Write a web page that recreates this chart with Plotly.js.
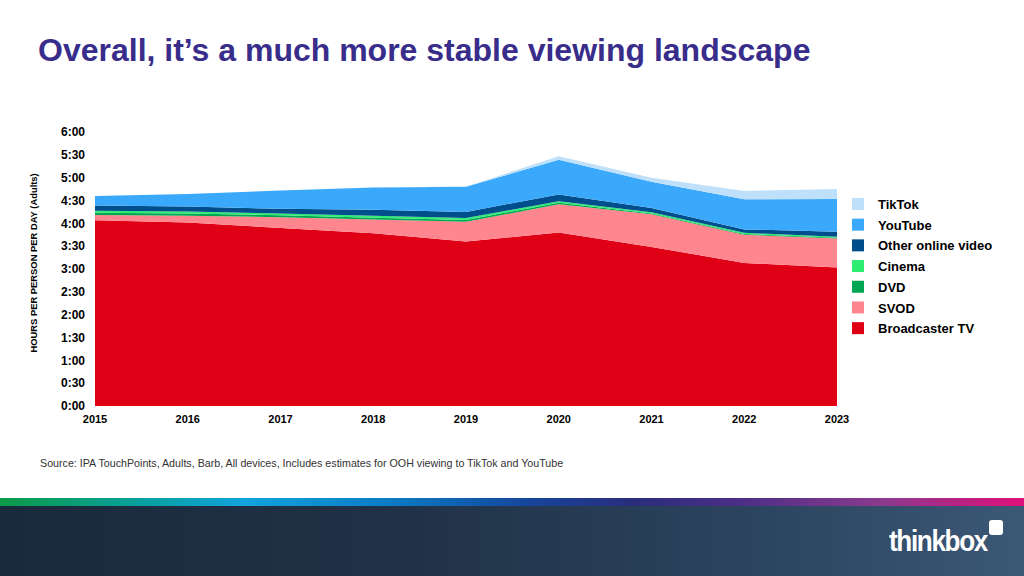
<!DOCTYPE html>
<html>
<head>
<meta charset="utf-8">
<script src="https://cdn.plot.ly/plotly-3.0.1.min.js"></script>
<style>
  html, body { margin: 0; padding: 0; background: #fff; }
  #wrap { position: relative; width: 1024px; height: 576px; overflow: hidden; }
  #chart { position: absolute; left: 0; top: 0; width: 1024px; height: 576px; }
  #strip { position: absolute; left: 0; top: 498px; width: 1024px; height: 8px;
    background: linear-gradient(90deg, #0b9a48 0%, #08a0a0 14%, #12a3dd 24%, #0a7cc4 38%, #16449a 52%, #2b2d7c 62%, #4b2f86 72%, #8a3a8e 86%, #e0107a 100%); }
  #band { position: absolute; left: 0; top: 506px; width: 1024px; height: 70px;
    background: linear-gradient(90deg, #1a2a3d 0%, #203247 40%, #2c4560 75%, #3b5877 100%); }
  #logo { position: absolute; left: 889px; top: 525px; color: #fff; font-family: "Liberation Sans", Arial, sans-serif;
    font-size: 29px; font-weight: bold; letter-spacing: -1.5px; transform: scaleX(0.9); transform-origin: left top; }
  #dot { position: absolute; left: 989px; top: 520px; width: 14px; height: 15px; background: #fff; border-radius: 3px; }
</style>
</head>
<body>
<div id="wrap">
  <div id="chart"></div>
  <div id="strip"></div>
  <div id="band"></div>
  <div id="logo">thinkbox</div>
  <div id="dot"></div>
</div>
<script>
// Years and minutes per person per day (adults)
const years = [2015, 2016, 2017, 2018, 2019, 2020, 2021, 2022, 2023];
const broadcasterTV = [244, 241, 234, 227, 216, 228, 209, 188, 182];
const svod = [7, 9, 14, 18, 26, 37, 43, 37, 38];
const dvd = [3, 3, 2.5, 2.5, 2.5, 2, 1, 1, 1];
const cinema = [2.5, 2.5, 2.5, 2.5, 2.5, 2, 1.5, 1.5, 1.5];
const otherOnline = [7, 6.5, 6, 8, 8, 9, 5.5, 4.5, 6.5];
const youtube = [12.5, 16.5, 24, 29, 33, 45.5, 34.5, 39.5, 43];
const tiktok = [0, 0, 0, 0, 0.5, 4.5, 5.5, 11, 13];

const seriesNames = ["Broadcaster TV", "SVOD", "DVD", "Cinema", "Other online video", "YouTube", "TikTok"];
const seriesValues = [broadcasterTV, svod, dvd, cinema, otherOnline, youtube, tiktok];
const seriesColors = ["#e00016", "#ff858e", "#00a651", "#2ded73", "#004f8c", "#3aa8fb", "#bfe0fa"];

const yTickVals = [0, 30, 60, 90, 120, 150, 180, 210, 240, 270, 300, 330, 360];
const yTickText = ["0:00", "0:30", "1:00", "1:30", "2:00", "2:30", "3:00", "3:30", "4:00", "4:30", "5:00", "5:30", "6:00"];

const FONT = "Liberation Sans, Arial, sans-serif";

const traces = [];
seriesNames.forEach((name, i) => {
  traces.push({
    type: "scatter", x: years, y: seriesValues[i], name: name,
    stackgroup: "one", mode: "none", fillcolor: seriesColors[i],
    line: { width: 0 }, showlegend: false, hoverinfo: "skip"
  });
});
// legend entries (square markers), top of stack listed first
seriesNames.forEach((name, i) => {
  traces.push({
    type: "scatter", x: [null], y: [null], name: name, mode: "markers",
    legendgroup: "g" + i, legendrank: 100 + (seriesNames.length - i),
    marker: { symbol: "square", size: 7, color: seriesColors[i] },
    showlegend: true, hoverinfo: "skip"
  });
});

const layout = {
  width: 1024, height: 576,
  paper_bgcolor: "#ffffff", plot_bgcolor: "#ffffff",
  margin: { l: 95, r: 187, t: 132, b: 170 },
  font: { family: FONT, color: "#000" },
  title: {
    text: "Overall, it’s a much more stable viewing landscape",
    font: { family: FONT, size: 32, color: "#382d8a", weight: "bold" },
    xref: "container", yref: "container", x: 38 / 1024, xanchor: "left",
    y: 1 - 50 / 576, yanchor: "middle"
  },
  xaxis: {
    type: "linear", range: [2015, 2023], tickvals: years, ticktext: years.map(String),
    showgrid: false, zeroline: false, showline: false, ticks: "",
    ticklabelstandoff: 5,
    tickfont: { family: FONT, size: 11, color: "#000", weight: "bold" }
  },
  yaxis: {
    range: [0, 360], tickvals: yTickVals, ticktext: yTickText,
    showgrid: false, zeroline: false, showline: false, ticks: "",
    ticklabelstandoff: 9,
    tickfont: { family: FONT, size: 12, color: "#000", weight: "bold" }
  },
  showlegend: true,
  legend: {
    xref: "container", yref: "container", x: 838 / 1024, y: 1 - 189 / 576,
    xanchor: "left", yanchor: "top", traceorder: "grouped", tracegroupgap: 0.8,
    font: { family: FONT, size: 13, color: "#000", weight: "bold" },
    bgcolor: "rgba(0,0,0,0)", borderwidth: 0, itemsizing: "constant"
  },
  annotations: [
    {
      text: "HOURS PER PERSON PER DAY (Adults)", textangle: -90,
      xref: "paper", yref: "paper", x: (33 - 95) / 742, y: (406 - 263.5) / 274,
      xanchor: "center", yanchor: "middle", showarrow: false,
      font: { family: FONT, size: 9.4, color: "#000", weight: "bold" }
    },
    {
      text: "Source: IPA TouchPoints, Adults, Barb, All devices, Includes estimates for OOH viewing to TikTok and YouTube",
      xref: "paper", yref: "paper", x: (38 - 95) / 742, y: -(463 - 406) / 274,
      xanchor: "left", yanchor: "middle", showarrow: false,
      font: { family: FONT, size: 10.7, color: "#333" }
    }
  ]
};

Plotly.newPlot("chart", traces, layout, { staticPlot: true, displayModeBar: false });
</script>
</body>
</html>
